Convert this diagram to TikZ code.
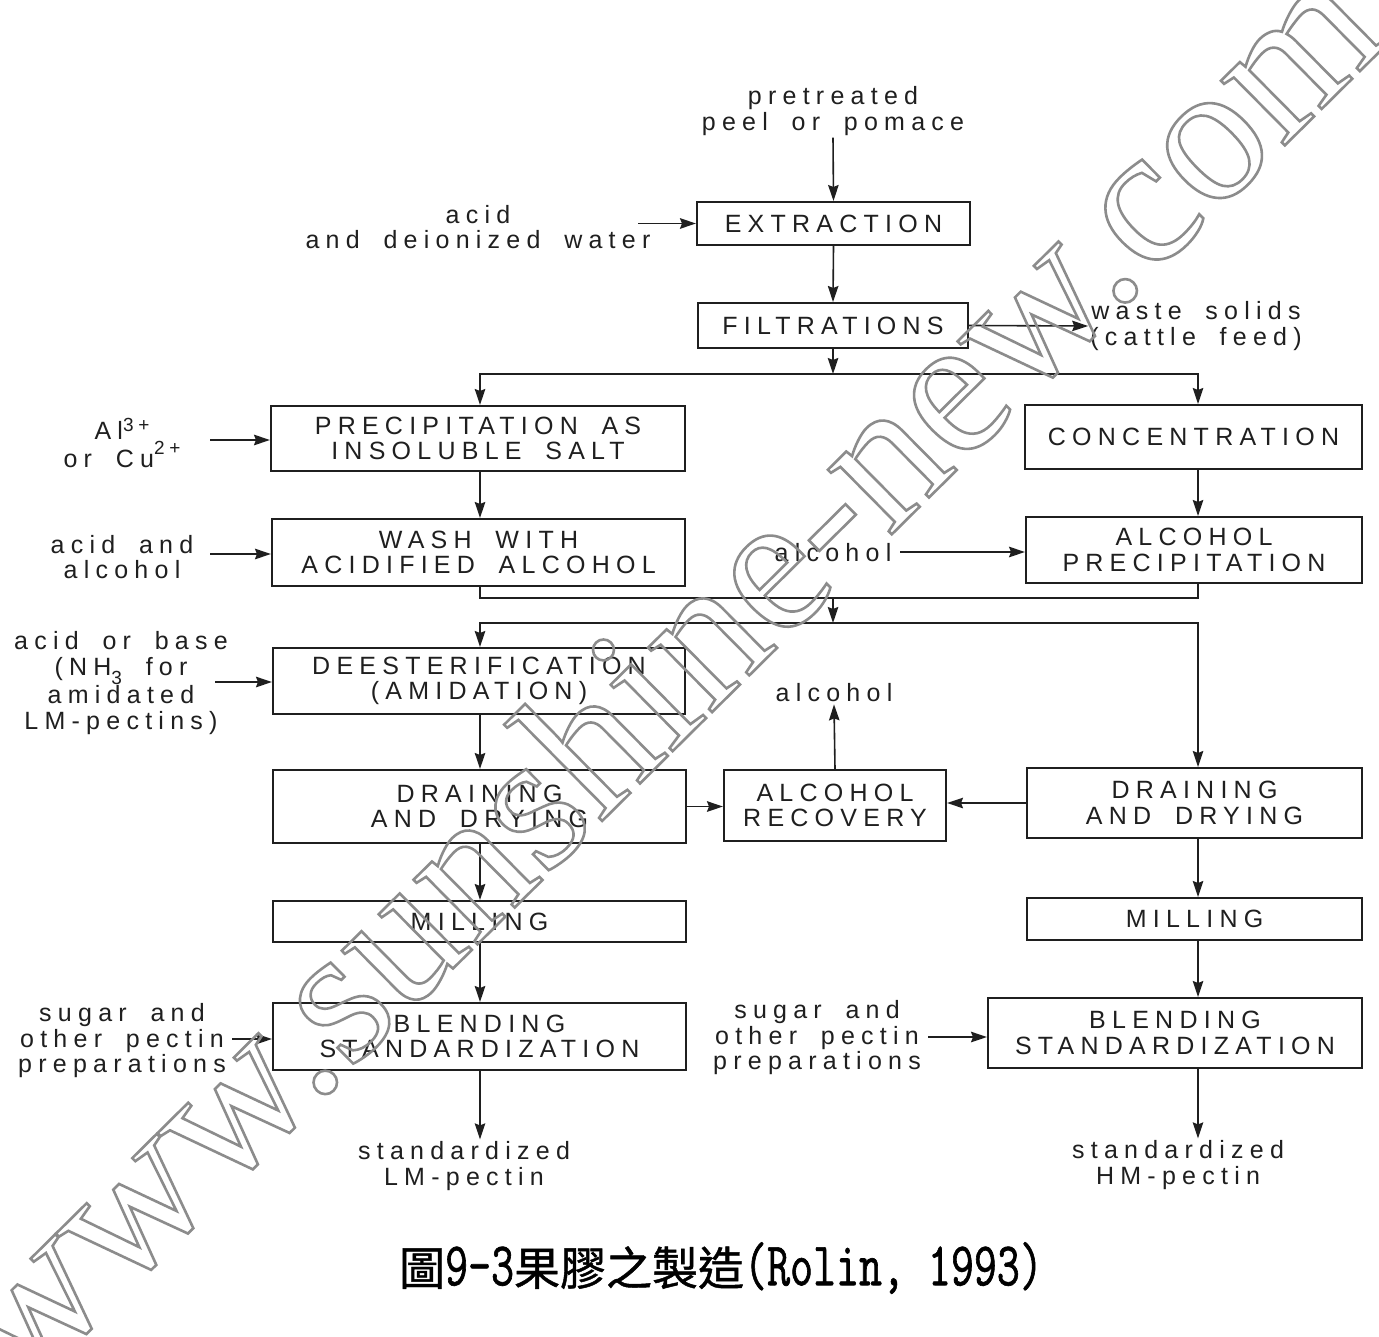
\documentclass[tikz,border=0pt]{standalone}
\usepackage{fontspec}
\usetikzlibrary{arrows.meta}
\newfontfamily\diagfont[LetterSpace=25,WordSpace=1.8]{Liberation Sans}
\newfontfamily\cjkfont[FakeBold=1.0]{Noto Sans CJK TC}
\newfontfamily\capfont[FakeStretch=0.72,FakeBold=1]{Latin Modern Mono}
\newfontfamily\wmfont{Liberation Serif}
\definecolor{ink}{gray}{0.12}
\newcommand\cj[1]{{\cjkfont\fontsize{46}{50}\selectfont #1}}
\newcommand\supr[2]{\raisebox{#1}{\fontsize{19}{19}\selectfont #2}}
\begin{document}
\begin{tikzpicture}[x=1pt,y=-1pt,
  box/.style={draw=ink,line width=2pt,inner sep=0pt,align=center,text=ink,
    font=\diagfont\fontsize{25}{25.5}\selectfont},
  lbl/.style={inner sep=2pt,align=center,text=ink,
    font=\diagfont\fontsize{25}{25.5}\selectfont},
  arr/.style={draw=ink,line width=1.6pt,-{Stealth[length=16pt,width=10.5pt,inset=2pt]}},
  ln/.style={draw=ink,line width=1.6pt}]
\useasboundingbox[fill=white] (0,0) rectangle (1379,1337);
\coordinate (lx) at (480,0);
\coordinate (rx) at (1198,0);
% boxes
\node[box,minimum width=273pt,minimum height=43pt] (ext) at (833.5,223.5) {EXTRACTION};
\node[box,minimum width=270pt,minimum height=45pt] (fil) at (833,325.5) {FILTRATIONS};
\node[box,minimum width=414pt,minimum height=65pt] (prec) at (478,438.5) {PRECIPITATION AS\\INSOLUBLE SALT};
\node[box,minimum width=337pt,minimum height=64pt] (conc) at (1193.5,437) {CONCENTRATION};
\node[box,minimum width=413pt,minimum height=67pt] (wash) at (478.5,552.5) {WASH WITH\\ACIDIFIED ALCOHOL};
\node[box,minimum width=336pt,minimum height=66pt] (alcp) at (1194,550) {ALCOHOL\\PRECIPITATION};
\node[box,minimum width=412pt,minimum height=66pt] (dees) at (479,681) {DEESTERIFICATION\\(AMIDATION)};
\node[box,minimum width=413pt,minimum height=73pt] (drL) at (479.5,806.5) {DRAINING\\AND DRYING};
\node[box,minimum width=222pt,minimum height=71pt] (rec) at (835,805.5) {ALCOHOL\\RECOVERY};
\node[box,minimum width=335pt,minimum height=70pt] (drR) at (1194.5,803) {DRAINING\\AND DRYING};
\node[box,minimum width=413pt,minimum height=41pt] (milL) at (479.5,921.5) {MILLING};
\node[box,minimum width=335pt,minimum height=42pt] (milR) at (1194.5,919) {MILLING};
\node[box,minimum width=413pt,minimum height=67pt] (blL) at (479.5,1036.5) {BLENDING\\STANDARDIZATION};
\node[box,minimum width=374pt,minimum height=70pt] (blR) at (1175,1033) {BLENDING\\STANDARDIZATION};
% labels
\node[lbl] (pre) at (833,111) {pretreated\\peel or pomace};
\node[lbl] (acid) at (478,227) {acid\\and deionized water};
\node[lbl] (waste) at (1196,326) {waste solids\\(cattle feed)};
\node[lbl] (ion) at (122,443) {Al\supr{8pt}{3+}\\or Cu\supr{13pt}{2+}};
\node[lbl] (aa) at (122,557) {acid and\\alcohol};
\node[lbl] (alc1) at (833,553) {alcohol};
\node[lbl] (ab) at (121,683) {acid or base\\(NH\supr{-9pt}{3} for\\amidated\\LM-pectins)};
\node[lbl] (alc2) at (834,693) {alcohol};
\node[lbl] (sug1) at (122,1041) {sugar and\\other pectin\\preparations};
\node[lbl] (sug2) at (817,1038) {sugar and\\other pectin\\preparations};
\node[lbl] (lmp) at (464,1166) {standardized\\LM-pectin};
\node[lbl] (hmp) at (1178,1165) {standardized\\HM-pectin};
% connector ends
\coordinate (acidout) at (638,223.5);
\coordinate (ionout) at (210,440);
\coordinate (aaout) at (210,554);
\coordinate (alc1out) at (900,552);
\coordinate (about) at (215,682);
\coordinate (sug1out) at (232,1039);
\coordinate (sug2out) at (928,1037);
\coordinate (s1) at (833,374);
\coordinate (s2) at (833,598);
\coordinate (s3) at (833,623);
% connectors
\draw[arr] (pre.south) -- (ext.north);
\draw[arr] (acidout) -- (ext.west);
\draw[arr] (ext.south) -- (fil.north);
\draw[arr] (fil.east) -- (waste.west);
\draw[arr] (fil.south) -- (s1);
\draw[arr] (s1) -| (prec.north -| lx);
\draw[arr] (s1) -| (conc.north -| rx);
\draw[arr] (ionout) -- (ionout -| prec.west);
\draw[arr] (prec.south -| lx) -- (wash.north -| lx);
\draw[arr] (aaout) -- (aaout -| wash.west);
\draw[arr] (conc.south -| rx) -- (alcp.north -| rx);
\draw[arr] (alc1out) -- (alc1out -| alcp.west);
\draw[ln] (wash.south -| lx) |- (s2) -| (alcp.south -| rx);
\draw[arr] (s2) -- (s3);
\draw[arr] (s3) -| (dees.north -| lx);
\draw[arr] (s3) -| (drR.north -| rx);
\draw[arr] (about) -- (about -| dees.west);
\draw[arr] (dees.south -| lx) -- (drL.north -| lx);
\draw[arr] (drL.east) -- (drL.east -| rec.west);
\draw[arr] (drR.west) -- (drR.west -| rec.east);
\draw[arr] (rec.north) -- (alc2.south);
\draw[arr] (drL.south -| lx) -- (milL.north -| lx);
\draw[arr] (milL.south -| lx) -- (blL.north -| lx);
\draw[arr] (sug1out) -- (sug1out -| blL.west);
\draw[arr] (blL.south -| lx) -- (lx |- lmp.north);
\draw[arr] (drR.south -| rx) -- (milR.north -| rx);
\draw[arr] (milR.south -| rx) -- (blR.north -| rx);
\draw[arr] (sug2out) -- (sug2out -| blR.west);
\draw[arr] (blR.south -| rx) -- (rx |- hmp.north);
% watermark
\node[rotate=44.7,anchor=base west,inner sep=0pt,text=black!45,
  font=\wmfont\fontsize{198}{200}\selectfont] (wm) at (18,1399)
  {\special{pdf:literal direct 1 Tr 2.6 w}www.sunshine-new.com\special{pdf:literal direct 0 Tr}};
% caption
\node[inner sep=0pt,text=black,font=\capfont\fontsize{62}{64}\selectfont] (cap) at (721,1268)
  {\cj{圖}9-3\cj{果膠之製造}(Rolin, 1993)};
\end{tikzpicture}
\end{document}
